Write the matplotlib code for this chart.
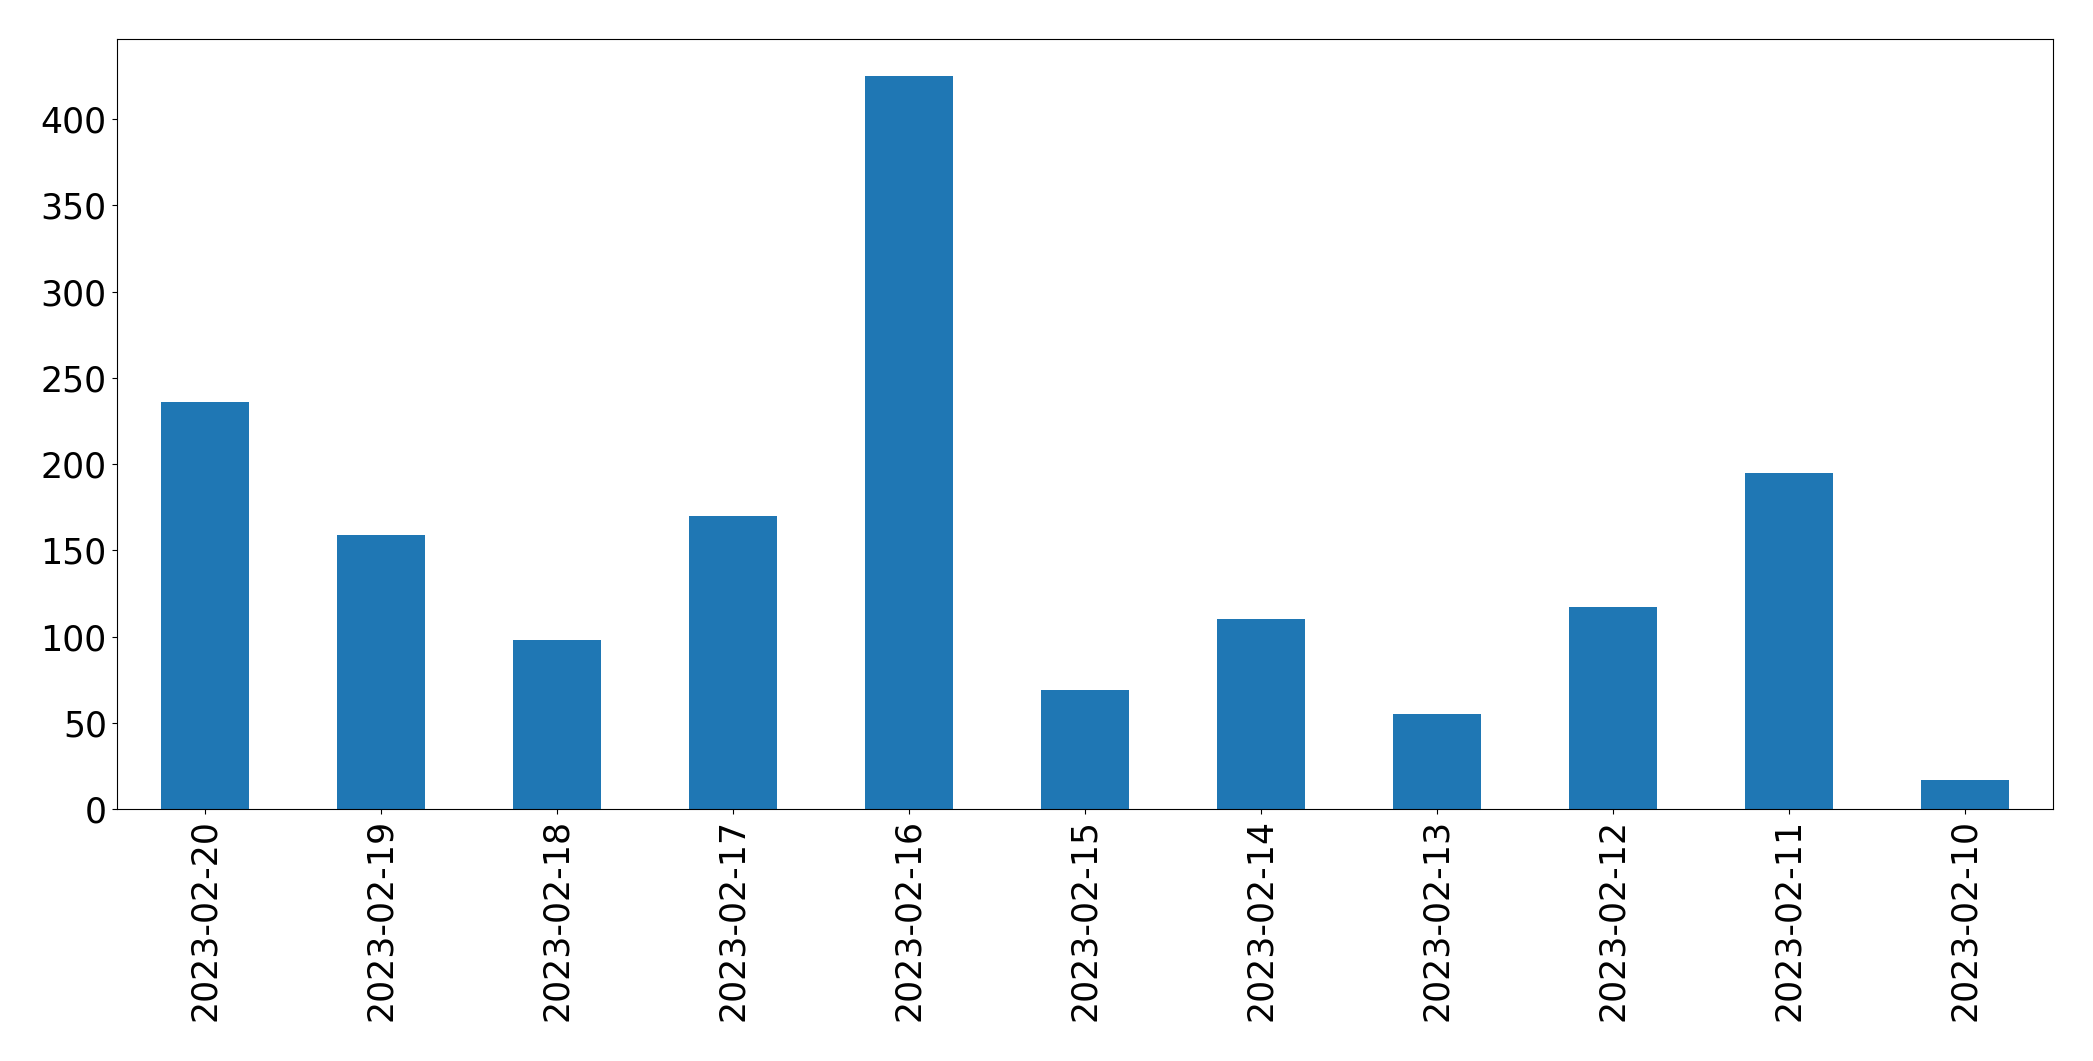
import matplotlib
matplotlib.use('Agg')

import matplotlib.pyplot as plt

dates = ['2023-02-20', '2023-02-19', '2023-02-18', '2023-02-17', '2023-02-16',
         '2023-02-15', '2023-02-14', '2023-02-13', '2023-02-12', '2023-02-11',
         '2023-02-10']
counts = [236, 159, 98, 170, 425, 69, 110, 55, 117, 195, 17]

fig, ax = plt.subplots(figsize=(20.93, 10.61), dpi=100)
fig.subplots_adjust(left=0.0557, right=0.981, top=0.963, bottom=0.2375)

x = range(len(dates))
ax.bar(x, counts, width=0.5, color='#1f77b4')
ax.set_xlim(-0.5, len(dates) - 0.5)
ax.set_xticks(list(x))
ax.set_xticklabels(dates, rotation=90)
ax.tick_params(labelsize=25)

plt.savefig('out.png', dpi=100)
